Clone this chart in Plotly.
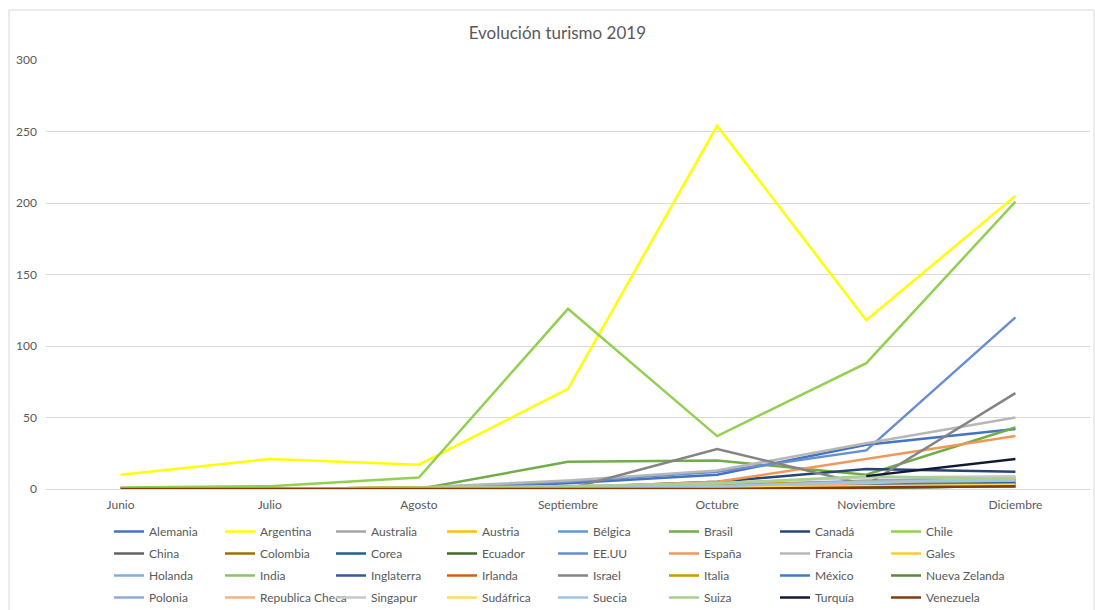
import plotly.graph_objects as go

months = ["Junio", "Julio", "Agosto", "Septiembre", "Octubre", "Noviembre", "Diciembre"]

countries = ["Alemania", "Argentina", "Australia", "Austria", "Bélgica", "Brasil", "Canadá", "Chile",
             "China", "Colombia", "Corea", "Ecuador", "EE.UU", "España", "Francia", "Gales",
             "Holanda", "India", "Inglaterra", "Irlanda", "Israel", "Italia", "México", "Nueva Zelanda",
             "Polonia", "Republica Checa", "Singapur", "Sudáfrica", "Suecia", "Suiza", "Turquía", "Venezuela"]

alemania = [0, 0, 0, 4, 10, 31, 42]
argentina = [10, 21, 17, 70, 254, 118, 205]
australia = [0, 0, 0, 1, 2, 3, 5]
austria = [0, 0, 1, 1, 2, 4, 6]
belgica = [0, 0, 0, 2, 3, 5, 7]
brasil = [0, 0, 0, 19, 20, 10, 43]
canada = [0, 0, 0, 1, 5, 14, 12]
chile = [1, 2, 8, 126, 37, 88, 201]
china = [0, 0, 0, 0, 1, 1, 2]
colombia = [0, 0, 0, 1, 2, 3, 5]
corea = [0, 0, 0, 0, 1, 2, 3]
ecuador = [0, 0, 0, 0, 1, 1, 2]
eeuu = [0, 0, 1, 5, 12, 27, 120]
espana = [0, 0, 1, 1, 5, 21, 37]
francia = [0, 0, 1, 6, 13, 32, 50]
gales = [0, 0, 1, 1, 2, 3, 4]
holanda = [0, 0, 0, 1, 2, 6, 8]
india = [0, 0, 0, 1, 3, 5, 4]
inglaterra = [0, 0, 0, 0, 2, 3, 4]
irlanda = [0, 0, 0, 0, 1, 2, 3]
israel = [0, 0, 0, 0, 28, 3, 67]
italia = [0, 0, 1, 1, 3, 5, 6]
mexico = [0, 0, 0, 1, 2, 4, 3]
nueva_zelanda = [0, 0, 0, 0, 1, 1, 2]
polonia = [0, 0, 0, 0, 1, 2, 2]
republica_checa = [0, 0, 0, 1, 2, 4, 8]
singapur = [0, 0, 0, 2, 4, 8, 9]
sudafrica = [0, 0, 0, 0, 1, 2, 3]
suecia = [0, 0, 0, 1, 2, 5, 6]
suiza = [0, 0, 1, 2, 4, 9, 7]
turquia = [None, None, None, None, None, 9, 21]
venezuela = [0, 0, 0, 0, 0, 1, 2]

series = [alemania, argentina, australia, austria, belgica, brasil, canada, chile,
          china, colombia, corea, ecuador, eeuu, espana, francia, gales,
          holanda, india, inglaterra, irlanda, israel, italia, mexico, nueva_zelanda,
          polonia, republica_checa, singapur, sudafrica, suecia, suiza, turquia, venezuela]

colors = ["#4472C4", "#FFFF00", "#A5A5A5", "#FFC000", "#5B9BD5", "#70AD47", "#264478", "#92D050",
          "#636363", "#997300", "#255E91", "#43682B", "#698ED0", "#F1975A", "#B7B7B7", "#FFCD33",
          "#7CAFDD", "#8CC168", "#335AA1", "#D26012", "#848484", "#CC9A00", "#3C7DC4", "#5A8A39",
          "#8FAADC", "#F4B183", "#C9C9C9", "#FFD966", "#9DC3E6", "#A9D18E", "#111a2e", "#843C0C"]

y_ticks = [0, 50, 100, 150, 200, 250, 300]

W, H = 1095, 610
L, R, T, B = 46, 5, 60, 121
pw, ph = W - L - R, H - T - B

per_row = 8
col_step = 111
legend_x0 = 109
row_tops = [517, 539, 561, 583]

# one legend per row (plus a separate one for the last, wider entry of row 3)
legend_layouts = {}
trace_legend = []
for i in range(len(countries)):
    row, col = divmod(i, per_row)
    if countries[i] == "Nueva Zelanda":
        lid = "legend5"
        legend_layouts[lid] = dict(x=(legend_x0 + col * col_step) / W, y=1 - row_tops[row] / H,
                                   entrywidth=90)
    else:
        lid = "legend" if row == 0 else f"legend{row + 1}"
        if lid not in legend_layouts:
            legend_layouts[lid] = dict(x=legend_x0 / W, y=1 - row_tops[row] / H, entrywidth=66)
    trace_legend.append(lid)

for lid, d in legend_layouts.items():
    d.update(orientation="h", xref="container", xanchor="left", yref="container", yanchor="top",
             entrywidthmode="pixels", tracegroupgap=0, itemwidth=30,
             font=dict(size=12, color="#595959"), bgcolor="rgba(0,0,0,0)")

fig = go.Figure()
for name, vals, col, lid in zip(countries, series, colors, trace_legend):
    fig.add_trace(go.Scatter(x=months, y=vals, name=name, mode="lines",
                             line=dict(color=col, width=2.5), connectgaps=False,
                             legend=lid))

fig.update_layout(
    width=W, height=H,
    margin=dict(l=L, r=R, t=T, b=B, autoexpand=False),
    paper_bgcolor="white", plot_bgcolor="white",
    font=dict(family="Lato, Open Sans, sans-serif", color="#595959", size=12),
    title=dict(text="Evolución turismo 2019", x=0.509, xanchor="center",
               y=1 - 33 / H, yanchor="middle", yref="container",
               font=dict(size=17, color="#595959")),
    xaxis=dict(range=[-0.5, 6.5], showgrid=False, showline=True, linecolor="#D9D9D9", linewidth=1,
               ticks="", tickfont=dict(size=12, color="#595959"), fixedrange=True,
               ticklabelstandoff=5),
    yaxis=dict(range=[0, 300], tickvals=y_ticks, showgrid=True, gridcolor="#D9D9D9",
               gridwidth=1, zeroline=False, showline=False, ticks="",
               tickfont=dict(size=12, color="#595959"), ticklabelstandoff=8),
    showlegend=True,
    **legend_layouts,
)

fig.add_shape(type="rect", xref="paper", yref="paper",
              x0=(9 - L) / pw, x1=(1094 - L) / pw,
              y0=(H - B - 612) / ph, y1=(H - B - 10) / ph,
              line=dict(color="#D9D9D9", width=1), fillcolor="rgba(0,0,0,0)", layer="below")

fig.write_html("out.html")
